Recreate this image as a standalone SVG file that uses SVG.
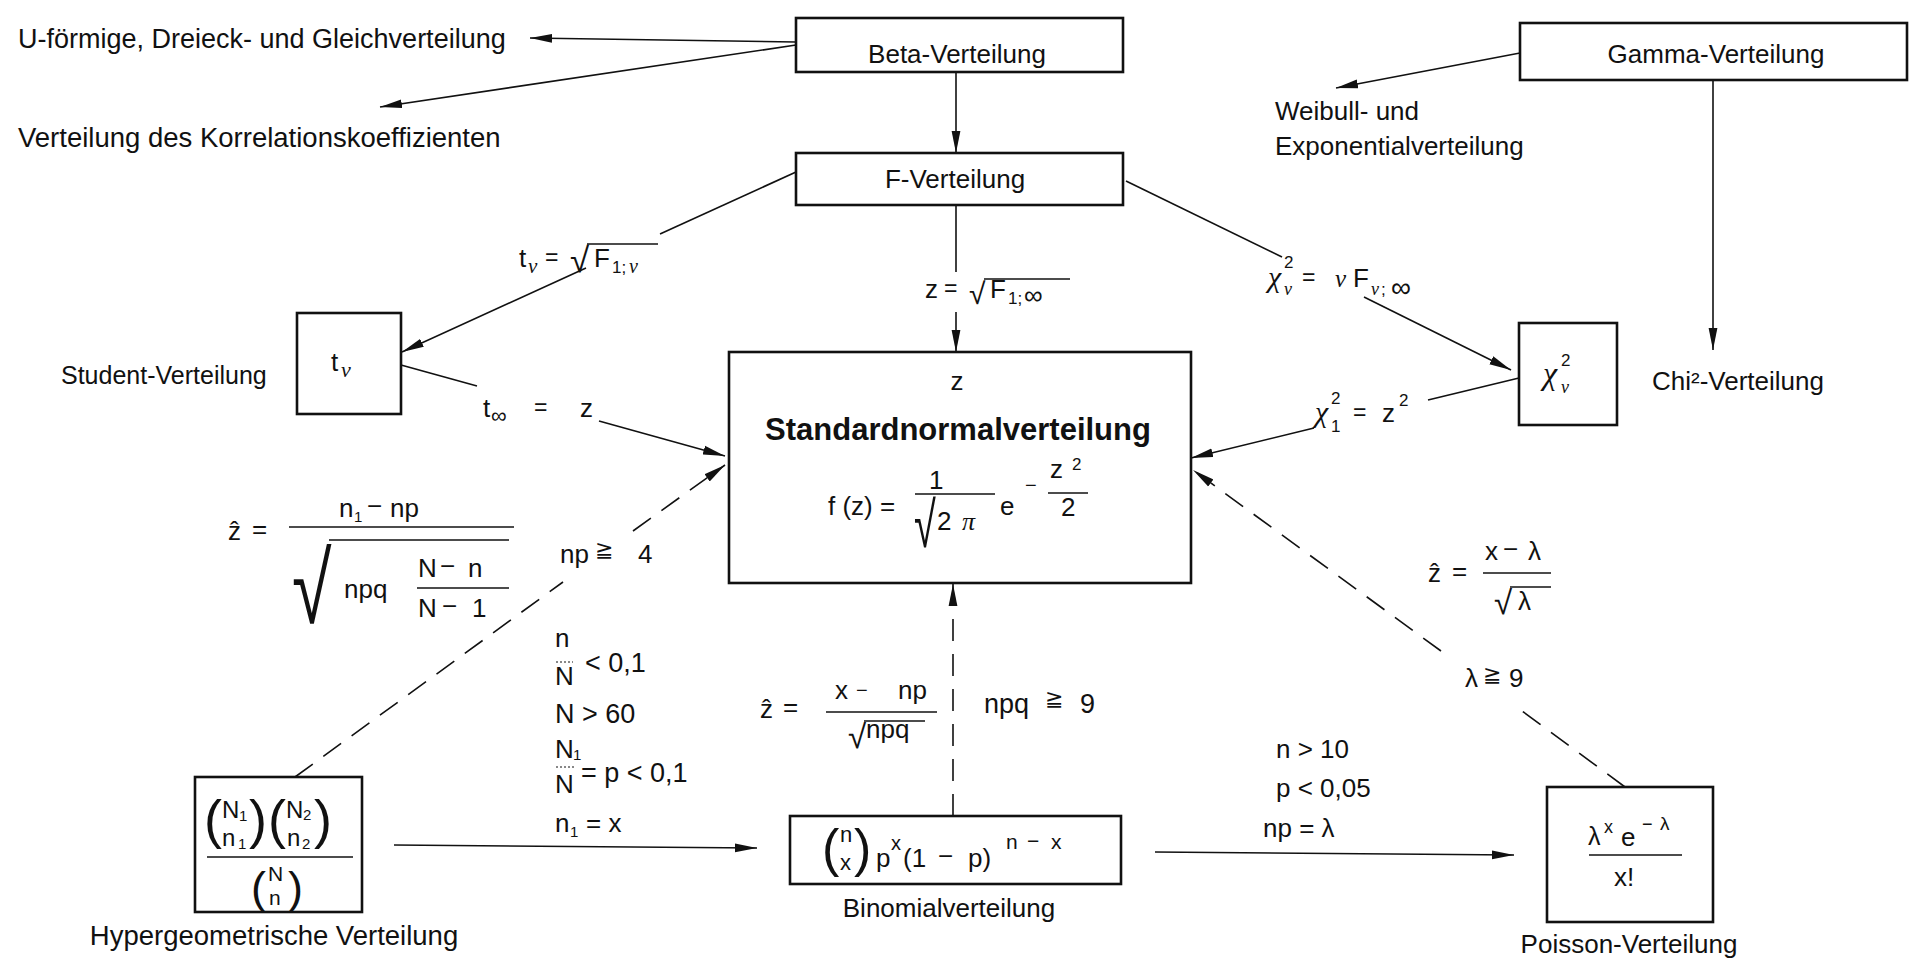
<svg xmlns="http://www.w3.org/2000/svg" width="1911" height="960" viewBox="0 0 1911 960">
<style>
.bx{fill:#fff;stroke:#111;stroke-width:2.6}
.ln{fill:none;stroke:#111;stroke-width:1.6}
.ds{stroke-dasharray:22 13}
.ar{marker-end:url(#ah)}
text{font-family:"Liberation Sans",Arial,"DejaVu Sans",sans-serif;fill:#111;font-size:26px}
.s{font-size:17px}
.g{font-family:"Liberation Serif","Times New Roman",serif;font-style:italic}
.sym{font-family:"DejaVu Sans",sans-serif;font-size:22px}
.mid{text-anchor:middle}
.fl{stroke:#111;stroke-width:1.5}
</style>
<defs>
<marker id="ah" markerUnits="userSpaceOnUse" markerWidth="22" markerHeight="10" refX="22" refY="5" orient="auto"><path d="M0,0.6 L22,5 L0,9.4 Z" fill="#111"/></marker>
</defs>
<rect width="1911" height="960" fill="#fff"/>

<g id="connectors">
<line class="ln ar" x1="796" y1="42" x2="530" y2="38"/>
<line class="ln ar" x1="796" y1="45" x2="380" y2="107"/>
<line class="ln ar" x1="956" y1="72" x2="956" y2="153"/>
<line class="ln ar" x1="1520" y1="53" x2="1336" y2="88"/>
<line class="ln ar" x1="1713" y1="80" x2="1713" y2="350"/>
<line class="ln" x1="796" y1="172" x2="660" y2="234"/>
<line class="ln ar" x1="586" y1="268" x2="402" y2="352"/>
<line class="ln" x1="956" y1="205" x2="956" y2="272"/>
<line class="ln ar" x1="956" y1="312" x2="956" y2="352"/>
<line class="ln" x1="1126" y1="181" x2="1282" y2="257"/>
<line class="ln ar" x1="1364" y1="297" x2="1511" y2="370"/>
<line class="ln" x1="401" y1="365" x2="477" y2="386"/>
<line class="ln ar" x1="599" y1="421" x2="725" y2="456"/>
<line class="ln" x1="1519" y1="378" x2="1428" y2="400"/>
<line class="ln ar" x1="1314" y1="428" x2="1191" y2="458"/>
<line class="ln ds" x1="295" y1="777" x2="563" y2="582"/>
<line class="ln ds ar" x1="633" y1="531" x2="725" y2="465"/>
<line class="ln ds ar" x1="953" y1="816" x2="953" y2="584"/>
<line class="ln ar" x1="394" y1="845" x2="757" y2="848"/>
<line class="ln ar" x1="1155" y1="852" x2="1514" y2="855"/>
<line class="ln ds" x1="1625" y1="787" x2="1514" y2="705"/>
<line class="ln ds ar" x1="1441" y1="651" x2="1193" y2="470"/>
</g>

<g id="edge-labels">
<!-- t_nu = sqrt F_1;nu -->
<text x="519" y="267">t</text>
<text x="528" y="273" class="g" style="font-size:21px">ν</text>
<text x="545" y="265" style="font-size:23px">=</text>
<text x="570" y="272" style="font-size:35px">√</text>
<line class="fl" x1="587" y1="244" x2="658" y2="244"/>
<text x="594" y="267">F</text>
<text x="612" y="273" class="s">1;</text>
<text x="629" y="273" class="g" style="font-size:20px">ν</text>
<!-- z = sqrt F_1;inf -->
<text x="925" y="298">z</text>
<text x="944" y="296" style="font-size:23px">=</text>
<text x="969" y="304" style="font-size:30px">√</text>
<line class="fl" x1="984" y1="279" x2="1070" y2="279"/>
<text x="990" y="298">F</text>
<text x="1008" y="304" class="s">1;</text>
<text x="1024" y="304" style="font-size:26px">∞</text>
<!-- chi2_nu = nu F_nu;inf -->
<text x="1268" y="287" class="g" style="font-size:30px">χ</text>
<text x="1284" y="268" class="s">2</text>
<text x="1284" y="295" class="g" style="font-size:18px">ν</text>
<text x="1302" y="285" style="font-size:23px">=</text>
<text x="1335" y="287" class="g" style="font-size:25px">ν</text>
<text x="1353" y="287">F</text>
<text x="1371" y="295" class="g" style="font-size:18px">ν</text>
<text x="1381" y="295" class="s">;</text>
<text x="1391" y="297" style="font-size:28px">∞</text>
<!-- chi2_1 = z2 -->
<text x="1315" y="422" class="g" style="font-size:30px">χ</text>
<text x="1331" y="404" class="s">2</text>
<text x="1331" y="432" class="s">1</text>
<text x="1353" y="420" style="font-size:23px">=</text>
<text x="1382" y="422">z</text>
<text x="1399" y="406" class="s">2</text>
<!-- t_inf = z -->
<text x="483" y="417">t</text>
<text x="491" y="423" style="font-size:22px">∞</text>
<text x="534" y="415" style="font-size:23px">=</text>
<text x="580" y="417">z</text>
<!-- np >= 4 -->
<text x="560" y="563">np</text>
<text x="595" y="557" class="sym">≧</text>
<text x="638" y="563">4</text>
<!-- hypergeometric z-hat -->
<text x="228" y="540">ẑ</text>
<text x="252" y="538">=</text>
<text x="339" y="517">n</text>
<text x="354" y="522" style="font-size:15px">1</text>
<text x="367" y="515">−</text>
<text x="390" y="517">np</text>
<line class="fl" x1="289" y1="527" x2="514" y2="527"/>
<text transform="translate(292,623) scale(0.72,1)" style="font-size:100px;font-weight:300">√</text>
<line class="fl" x1="329" y1="540" x2="509" y2="540"/>
<text x="344" y="598">npq</text>
<text x="418" y="577">N</text>
<text x="440" y="575">−</text>
<text x="468" y="577">n</text>
<line class="fl" x1="417" y1="588" x2="509" y2="588"/>
<text x="418" y="617">N</text>
<text x="442" y="615">−</text>
<text x="472" y="617">1</text>
<!-- conditions hyper -> binomial -->
<text x="555" y="647">n</text>
<line class="fl" x1="556" y1="662" x2="573" y2="662" style="stroke-dasharray:2 2;stroke-width:1"/>
<text x="555" y="685">N</text>
<text x="585" y="672" style="font-size:27px">&lt; 0,1</text>
<text x="555" y="723" style="font-size:27px">N &gt; 60</text>
<text x="555" y="758">N</text>
<text x="573" y="760" style="font-size:15px">1</text>
<line class="fl" x1="556" y1="767" x2="575" y2="767" style="stroke-dasharray:2 2;stroke-width:1"/>
<text x="555" y="793">N</text>
<text x="581" y="782" style="font-size:27px">= p &lt; 0,1</text>
<text x="555" y="832">n</text>
<text x="570" y="837" style="font-size:15px">1</text>
<text x="586" y="832">= x</text>
<!-- binomial z-hat -->
<text x="760" y="718">ẑ</text>
<text x="783" y="716">=</text>
<text x="835" y="699">x</text>
<text x="856" y="697" style="font-size:20px">−</text>
<text x="898" y="699">np</text>
<line class="fl" x1="826" y1="712" x2="937" y2="712"/>
<text x="848" y="748" style="font-size:33px">√</text>
<line class="fl" x1="864" y1="721" x2="925" y2="721"/>
<text x="866" y="738">npq</text>
<text x="984" y="713" style="font-size:27px">npq</text>
<text x="1045" y="706" class="sym">≧</text>
<text x="1080" y="713" style="font-size:27px">9</text>
<!-- binomial -> poisson conditions -->
<text x="1276" y="758">n &gt; 10</text>
<text x="1276" y="797">p &lt; 0,05</text>
<text x="1263" y="837">np = λ</text>
<!-- poisson z-hat -->
<text x="1428" y="582">ẑ</text>
<text x="1452" y="580">=</text>
<text x="1485" y="560">x</text>
<text x="1503" y="558">−</text>
<text x="1528" y="560">λ</text>
<line class="fl" x1="1483" y1="573" x2="1551" y2="573"/>
<text x="1494" y="614" style="font-size:33px">√</text>
<line class="fl" x1="1510" y1="587" x2="1551" y2="587"/>
<text x="1518" y="610">λ</text>
<text x="1465" y="687">λ</text>
<text x="1483" y="682" class="sym">≧</text>
<text x="1509" y="687">9</text>
</g>

<g id="u-dist"><text x="18" y="48" style="font-size:27px">U-förmige, Dreieck- und Gleichverteilung</text></g>
<g id="korrelation"><text x="18" y="147" style="font-size:27.5px">Verteilung des Korrelationskoeffizienten</text></g>
<g id="weibull"><text x="1275" y="120">Weibull- und</text><text x="1275" y="155">Exponentialverteilung</text></g>

<g id="beta"><rect class="bx" x="796" y="18" width="327" height="54"/><text class="mid" x="957" y="63">Beta-Verteilung</text></g>
<g id="fdist"><rect class="bx" x="796" y="153" width="327" height="52"/><text class="mid" x="955" y="188">F-Verteilung</text></g>
<g id="gamma"><rect class="bx" x="1520" y="23" width="387" height="57"/><text class="mid" x="1716" y="63">Gamma-Verteilung</text></g>

<g id="student">
<rect class="bx" x="297" y="313" width="104" height="101"/>
<text x="331" y="371">t</text>
<text x="341" y="377" class="g" style="font-size:22px">ν</text>
<text x="61" y="384" style="font-size:25px">Student-Verteilung</text>
</g>

<g id="chi2">
<rect class="bx" x="1519" y="323" width="98" height="102"/>
<text x="1543" y="384" class="g" style="font-size:32px">χ</text>
<text x="1561" y="366" class="s">2</text>
<text x="1561" y="393" class="g" style="font-size:18px">ν</text>
<text x="1652" y="390">Chi²-Verteilung</text>
</g>

<g id="normal">
<rect class="bx" x="729" y="352" width="462" height="231"/>
<text class="mid" x="957" y="390">z</text>
<text class="mid" x="958" y="440" style="font-size:31px;font-weight:bold">Standardnormalverteilung</text>
<text x="828" y="515">f (z) =</text>
<text x="929" y="489">1</text>
<line class="fl" x1="915" y1="494" x2="995" y2="494"/>
<text transform="translate(914,547) scale(0.62,1)" style="font-size:64px">√</text>
<text x="937" y="530">2</text>
<text x="962" y="530" class="g">π</text>
<text x="1000" y="515">e</text>
<text x="1025" y="492" style="font-size:20px">−</text>
<text x="1050" y="478">z</text>
<text x="1072" y="470" class="s">2</text>
<line class="fl" x1="1048" y1="493" x2="1088" y2="493"/>
<text x="1061" y="516">2</text>
</g>

<g id="hypergeometric">
<rect class="bx" x="195" y="777" width="167" height="135"/>
<text x="204" y="838" style="font-size:54px">(</text>
<text x="222" y="818" style="font-size:24px">N</text>
<text x="239" y="821" style="font-size:15px">1</text>
<text x="222" y="846" style="font-size:24px">n</text>
<text x="238" y="849" style="font-size:15px">1</text>
<text x="249" y="838" style="font-size:54px">)</text>
<text x="268" y="838" style="font-size:54px">(</text>
<text x="286" y="818" style="font-size:24px">N</text>
<text x="303" y="820" style="font-size:15px">2</text>
<text x="287" y="846" style="font-size:24px">n</text>
<text x="302" y="849" style="font-size:15px">2</text>
<text x="314" y="838" style="font-size:54px">)</text>
<line class="fl" x1="207" y1="857" x2="353" y2="857"/>
<text x="251" y="903" style="font-size:45px">(</text>
<text x="268" y="881" style="font-size:21px">N</text>
<text x="269" y="905" style="font-size:21px">n</text>
<text x="288" y="903" style="font-size:45px">)</text>
<text class="mid" x="274" y="945" style="font-size:27.5px">Hypergeometrische Verteilung</text>
</g>

<g id="binomial">
<rect class="bx" x="790" y="816" width="331" height="68"/>
<text x="822" y="866" style="font-size:52px">(</text>
<text x="840" y="842" style="font-size:22px">n</text>
<text x="840" y="870" style="font-size:22px">x</text>
<text x="854" y="866" style="font-size:52px">)</text>
<text x="876" y="867">p</text>
<text x="891" y="850" style="font-size:20px">x</text>
<text x="903" y="867">(1</text>
<text x="938" y="865">−</text>
<text x="968" y="867">p)</text>
<text x="1006" y="849" style="font-size:21px">n</text>
<text x="1027" y="848" style="font-size:21px">−</text>
<text x="1051" y="849" style="font-size:21px">x</text>
<text class="mid" x="949" y="917">Binomialverteilung</text>
</g>

<g id="poisson">
<rect class="bx" x="1547" y="787" width="166" height="135"/>
<text x="1588" y="845" style="font-size:25px">λ</text>
<text x="1604" y="833" style="font-size:18px">x</text>
<text x="1621" y="846">e</text>
<text x="1642" y="830" style="font-size:18px">−</text>
<text x="1660" y="830" style="font-size:19px">λ</text>
<line class="fl" x1="1589" y1="855" x2="1682" y2="855"/>
<text x="1614" y="886">x!</text>
<text class="mid" x="1629" y="953">Poisson-Verteilung</text>
</g>
</svg>
